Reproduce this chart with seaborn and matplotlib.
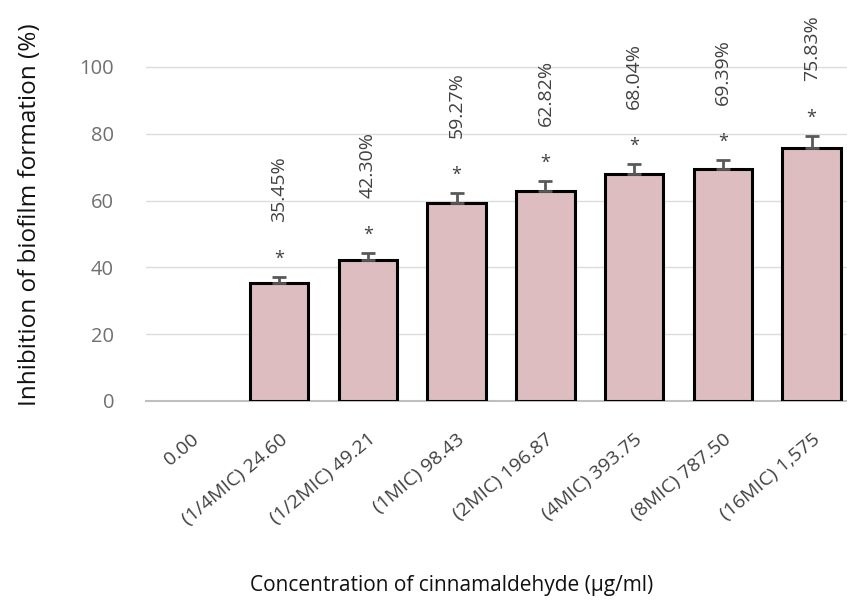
import matplotlib
matplotlib.use("Agg")
import matplotlib.pyplot as plt
import seaborn as sns
import pandas as pd
import numpy as np

categories = ["0.00", "(1/4MIC) 24.60", "(1/2MIC) 49.21", "(1MIC) 98.43",
              "(2MIC) 196.87", "(4MIC) 393.75", "(8MIC) 787.50", "(16MIC) 1,575"]
values = [0.0, 35.45, 42.30, 59.27, 62.82, 68.04, 69.39, 75.83]
errors = [0.0, 1.7, 2.0, 3.0, 3.0, 3.0, 2.8, 3.5]
labels = ["", "35.45%", "42.30%", "59.27%", "62.82%", "68.04%", "69.39%", "75.83%"]
signif = ["", "*", "*", "*", "*", "*", "*", "*"]
yticks = [0, 20, 40, 60, 80, 100]

sns.set_theme(style="white")
plt.rcParams['font.family'] = ['Open Sans', 'DejaVu Sans']

df = pd.DataFrame({"cat": categories, "val": values})

fig = plt.figure(figsize=(8.47, 6.05), dpi=100)
ax = fig.add_axes([146 / 847, 1 - 401 / 605, (856 - 146) / 847, (401 - 44) / 605])

sns.barplot(data=df, x="cat", y="val", color="#DDBDBF", edgecolor="black",
            linewidth=2.2, width=0.66, saturation=1, ax=ax, zorder=3)
for p in ax.patches:
    if p.get_height() <= 0:
        p.set_linewidth(0)

xs = np.arange(len(categories))
vals = np.array(values)
errs = np.array(errors)
mask = vals > 0
ax.errorbar(xs[mask], vals[mask], yerr=[np.zeros(mask.sum()), errs[mask]],
            fmt="none", ecolor="#595959", elinewidth=2, capsize=5, capthick=2, zorder=4)

for x, v, e, lab, s in zip(xs, vals, errs, labels, signif):
    if v <= 0:
        continue
    ax.text(x, v + e + 5.5, s, ha="center", va="center", fontsize=13, color="#404040",
            zorder=5)
    ax.text(x, v + e + 16.5, lab, ha="center", va="bottom", rotation=90,
            fontsize=14, color="#404040", zorder=5)

ax.set_ylim(0, 100 * (401 - 44) / (401 - 67))
ax.set_xlim(-0.5, len(categories) - 0.5)
ax.set_yticks(yticks)
ax.set_yticklabels([str(t) for t in yticks], fontsize=14.5, color="#707070")
ax.yaxis.grid(True, color="#DCDCDC", linewidth=1)
ax.set_axisbelow(True)
for sp in ["top", "right", "left"]:
    ax.spines[sp].set_visible(False)
ax.spines["bottom"].set_color("#BFBFBF")
ax.spines["bottom"].set_linewidth(1.5)
ax.tick_params(axis="both", length=0)
ax.tick_params(axis="y", pad=23)
ax.set_xticks(xs)
ax.set_xticklabels(categories, rotation=40, ha="right", rotation_mode="anchor",
                   fontsize=14, color="#404040")
ax.tick_params(axis="x", pad=21)
ax.set_xlabel("")
ax.set_ylabel("")

fig.text(30 / 847, 1 - 215 / 605, "Inhibition of biofilm formation (%)", rotation=90,
         ha="center", va="center", fontsize=17.5, color="#111111")
fig.text(452 / 847, 1 - 585 / 605, "Concentration of cinnamaldehyde (µg/ml)",
         ha="center", va="center", fontsize=15, color="#111111")

fig.savefig("out.png", dpi=100)
